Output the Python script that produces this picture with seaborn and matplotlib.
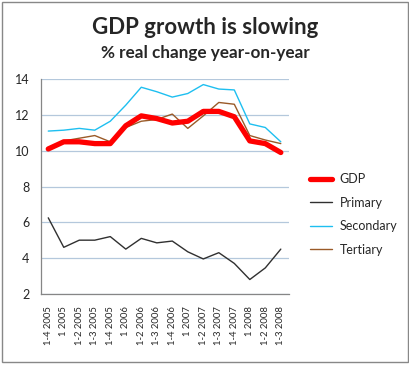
import pandas as pd
import numpy as np
import seaborn as sns
import matplotlib.pyplot as plt
from matplotlib.patches import Rectangle

quarters = ['1-4 2005', '1 2005', '1-2 2005', '1-3 2005', '1-4 2005', '1 2006',
            '1-2 2006', '1-3 2006', '1-4 2006', '1 2007', '1-2 2007', '1-3 2007',
            '1-4 2007', '1 2008', '1-2 2008', '1-3 2008']
gdp = [10.1, 10.5, 10.5, 10.4, 10.4, 11.4, 11.95, 11.8, 11.55, 11.65, 12.2, 12.2, 11.9, 10.55, 10.4, 9.9]
primary = [6.25, 4.6, 5.0, 5.0, 5.2, 4.5, 5.1, 4.85, 4.95, 4.35, 3.95, 4.3, 3.7, 2.8, 3.45, 4.5]
secondary = [11.1, 11.15, 11.25, 11.15, 11.65, 12.55, 13.55, 13.3, 13.0, 13.2, 13.7, 13.45, 13.4, 11.5, 11.3, 10.5]
tertiary = [10.1, 10.55, 10.7, 10.85, 10.5, 11.3, 11.65, 11.75, 12.05, 11.25, 11.95, 12.7, 12.6, 10.85, 10.6, 10.4]

series = {'GDP': gdp, 'Primary': primary, 'Secondary': secondary, 'Tertiary': tertiary}
colors = {'GDP': '#ff0000', 'Primary': '#303030', 'Secondary': '#1ebff0', 'Tertiary': '#9a5a28'}
widths = {'GDP': 3.8, 'Primary': 1.0, 'Secondary': 1.0, 'Tertiary': 1.0}
zorders = {'GDP': 5, 'Primary': 3, 'Secondary': 3, 'Tertiary': 4}

sns.set_style('white')
plt.rcParams['font.family'] = ['Lato', 'DejaVu Sans']

fig = plt.figure(figsize=(4.1, 3.65), dpi=100)
ax = fig.add_axes([0.0988, 0.195, 0.605, 0.588])

idx = np.arange(len(quarters))
for name, vals in series.items():
    df = pd.DataFrame({'x': idx, 'y': vals})
    sns.lineplot(data=df, x='x', y='y', ax=ax, color=colors[name], lw=widths[name],
                 label=name, zorder=zorders[name])

ax.set_xlim(-0.5, len(quarters) - 0.5)
ax.set_ylim(2, 14)
ax.set_yticks(range(2, 15, 2))
ax.set_xticks(idx)
ax.set_xticklabels(quarters, rotation=90, fontsize=6.8)
ax.set_xticks(np.arange(-0.5, len(quarters)), minor=True)
ax.tick_params(axis='x', which='major', length=0, pad=9)
ax.tick_params(axis='x', which='minor', length=4, color='#868686', direction='out')
ax.tick_params(axis='y', length=4, color='#868686', direction='out', labelsize=9, pad=4)
ax.yaxis.grid(True, color='#b4c8dc', lw=0.9)
ax.set_axisbelow(True)
ax.set_xlabel('')
ax.set_ylabel('')
for s in ['top', 'right']:
    ax.spines[s].set_visible(False)
for s in ['left', 'bottom']:
    ax.spines[s].set_color('#868686')
    ax.spines[s].set_linewidth(0.9)

leg = ax.legend(loc='center left', bbox_to_anchor=(1.04, 0.37), frameon=False,
                fontsize=9, handlelength=1.8, handletextpad=0.6, labelspacing=0.92)

fig.text(0.5, 0.926, 'GDP growth is slowing', ha='center', va='center',
         fontsize=16, fontweight='bold')
fig.text(0.5, 0.856, '% real change year-on-year', ha='center', va='center',
         fontsize=12.3, fontweight='bold')

fig.patches.append(Rectangle((0.006, 0.008), 0.988, 0.986, transform=fig.transFigure,
                             fill=False, edgecolor='#888888', lw=1.0))

fig.savefig('out.png', dpi=100)
